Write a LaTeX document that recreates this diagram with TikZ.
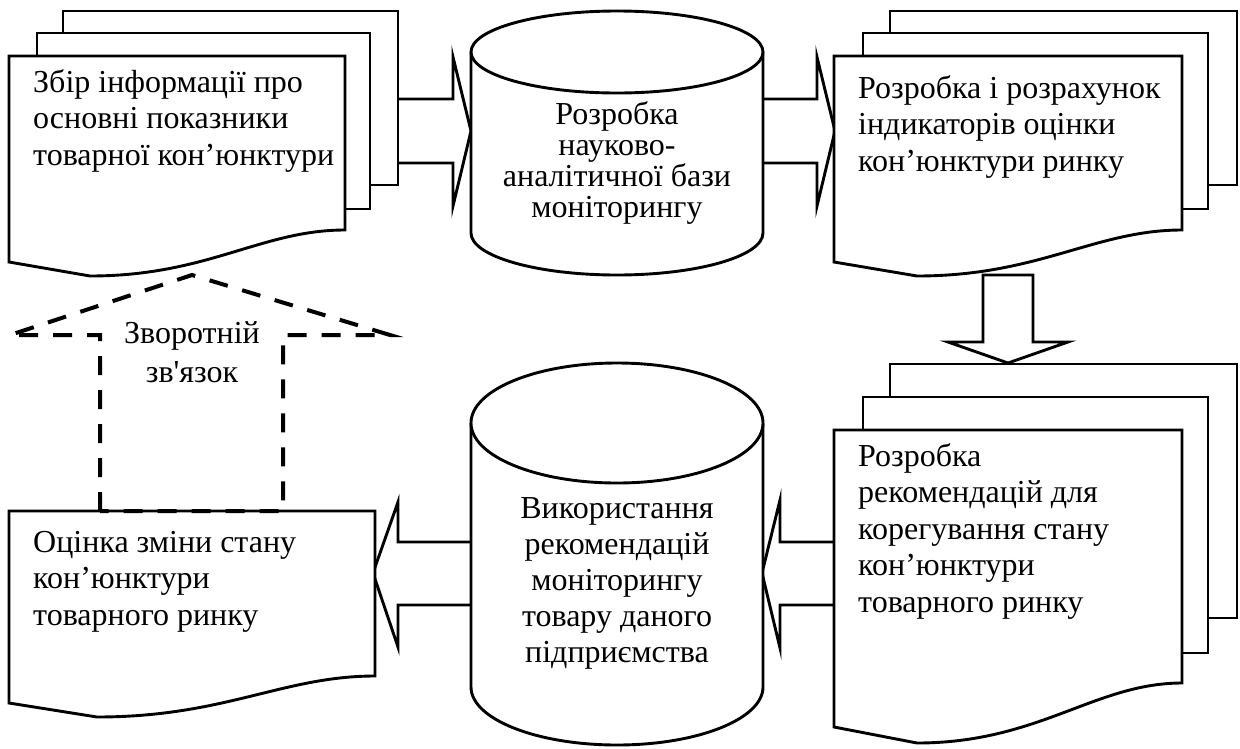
\documentclass[tikz,border=0pt]{standalone}
\usepackage{fontspec}
\setmainfont{Liberation Serif}
\begin{document}
\begin{tikzpicture}[x=1pt,y=-1pt,
  outline/.style={draw=black, line width=2.9pt, fill=white, line join=miter},
  blockarrow/.style={draw=black, line width=2.9pt, fill=white, line join=miter},
  fbline/.style={draw=black, line width=4pt, dash pattern=on 19pt off 15pt},
  doctext/.style={align=left, inner sep=0pt, anchor=base west, font=\fontsize{32}{36.5}\selectfont},
  cyltext/.style={align=center, inner sep=0pt, anchor=base},
]
\useasboundingbox[fill=white] (0,0) rectangle (1240,748);

% block arrows (drawn first, shapes sit on top)
\draw[blockarrow] (398,99) -- (453,99) -- (453,57) -- (471,131) -- (453,206) -- (453,163) -- (398,163);
\draw[blockarrow] (763,99) -- (817,99) -- (817,57) -- (835,131) -- (817,206) -- (817,163) -- (763,163);
\draw[blockarrow] (983,275) -- (1033,275) -- (1033,342) -- (1068,342) -- (1008,363) -- (948,342) -- (983,342) -- cycle;
\draw[blockarrow] (834,542) -- (780,542) -- (780,500) -- (762,573) -- (780,648) -- (780,605) -- (834,605);
\draw[blockarrow] (471,542) -- (398,542) -- (398,502) -- (373,573) -- (398,647) -- (398,605) -- (471,605);

% top-left multi-document
\draw[outline] (63,11) rectangle (398,185);
\draw[outline] (37,33) rectangle (370,209);
\draw[outline] (9,56) -- (345,56) -- (345,230) .. controls (261,230) and (208,276) .. (90,276) -- (9,262) -- cycle;
\node[doctext] (t1) at (33,165) {Збір інформації про\\основні показники\\товарної кон’юнктури};

% top-right multi-document
\draw[outline] (890,11) rectangle (1237,185);
\draw[outline] (863,33) rectangle (1208,209);
\draw[outline] (834,56) -- (1182,56) -- (1182,230) .. controls (1095,230) and (1039,276) .. (917,276) -- (834,262) -- cycle;
\node[doctext] (t2) at (858,171) {Розробка і розрахунок\\індикаторів оцінки\\кон’юнктури ринку};

% lower-right multi-document
\draw[outline] (890,364) rectangle (1237,618);
\draw[outline] (863,397) rectangle (1208,653);
\draw[outline] (834,430) -- (1182,430) -- (1182,683) .. controls (1095,683) and (1039,743) .. (917,743) -- (834,727) -- cycle;
\node[doctext] (t3) at (858,612) {Розробка\\рекомендацій для\\корегування стану\\кон’юнктури\\товарного ринку};

% lower-left document
\draw[outline] (9,511) -- (375,511) -- (375,676) .. controls (283,676) and (225,717) .. (97,717) -- (9,703) -- cycle;
\node[doctext] (t4) at (33,625) {Оцінка зміни стану\\кон’юнктури\\товарного ринку};

% upper cylinder
\draw[outline] (471,52) -- (471,233) arc[start angle=180, end angle=0, x radius=146, y radius=42] -- (763,52);
\draw[outline] (617,52) ellipse[x radius=146, y radius=41];
\node[cyltext, font=\fontsize{32}{31}\selectfont] (c1) at (617,217) {Розробка\\науково-\\аналітичної бази\\моніторингу};

% lower cylinder
\draw[outline] (471,423) -- (471,687) arc[start angle=180, end angle=0, x radius=146, y radius=58] -- (763,423);
\draw[outline] (617,423) ellipse[x radius=146, y radius=60];
\node[cyltext, font=\fontsize{32}{36}\selectfont] (c2) at (617,662) {Використання\\рекомендацій\\моніторингу\\товару даного\\підприємства};

% feedback (dashed up arrow)
\draw[fbline] (100,511) -- (100,335) -- (10,335) -- (192,275) -- (390,335) -- (283,335) -- (283,511) -- cycle;
\node[cyltext, font=\fontsize{32}{39}\selectfont] (fb) at (192,382) {Зворотній\\зв\textquotesingle язок};
\end{tikzpicture}
\end{document}
